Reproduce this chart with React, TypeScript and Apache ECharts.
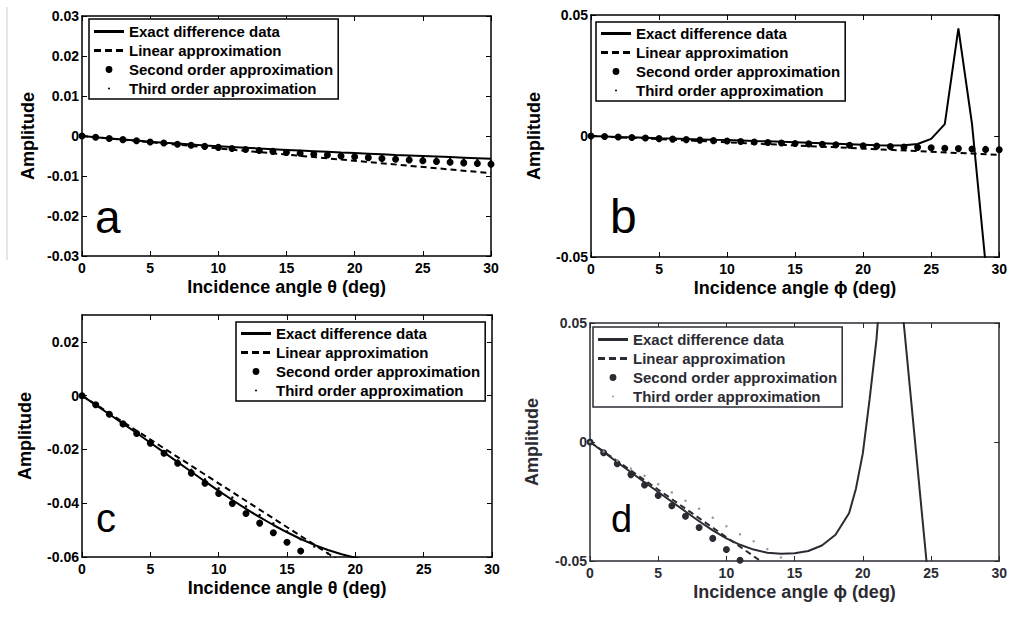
import React, { useEffect, useRef } from "react";
import * as echarts from "echarts";

// ---------- data ----------
const NAMES = [
  "Exact difference data",
  "Linear approximation",
  "Second order approximation",
  "Third order approximation",
];

const ANGLES = [0, 1, 2, 3, 4, 5, 6, 7, 8, 9, 10, 11, 12, 13, 14, 15, 16, 17, 18, 19, 20, 21, 22, 23, 24, 25, 26, 27, 28, 29, 30];
const LINEAR_X = [0, 30];

// panel a (theta)
const A_EXACT = [0, -0.0003, -0.0006, -0.00088, -0.00115, -0.00141, -0.00166, -0.0019, -0.00213, -0.00235, -0.00256, -0.00276, -0.00295, -0.00313, -0.0033, -0.00347, -0.00364, -0.0038, -0.00396, -0.00412, -0.00427, -0.00442, -0.00457, -0.00472, -0.00486, -0.005, -0.00514, -0.00528, -0.00542, -0.00556, -0.0057];
const A_LINEAR = [0, -0.0093];
const A_SECOND = [0, -0.00031, -0.00061, -0.00091, -0.0012, -0.00149, -0.00177, -0.00205, -0.00232, -0.00259, -0.00285, -0.00311, -0.00336, -0.00361, -0.00385, -0.00409, -0.00432, -0.00455, -0.00477, -0.00499, -0.0052, -0.00541, -0.00561, -0.00581, -0.006, -0.00619, -0.00637, -0.00655, -0.00672, -0.00689, -0.00705];
const A_THIRD = [0, -0.00031, -0.00061, -0.0009, -0.00119, -0.00147, -0.00175, -0.00201, -0.00228, -0.00253, -0.00277, -0.00301, -0.00324, -0.00345, -0.00366, -0.00386, -0.00404, -0.00422, -0.00439, -0.00455, -0.0047, -0.00485, -0.005, -0.00515, -0.0053, -0.00545, -0.0056, -0.00575, -0.0059, -0.00605, -0.0062];

// panel b (phi)
const B_EXACT = [0, -0.0002, -0.0004, -0.0005, -0.0007, -0.0009, -0.001, -0.0012, -0.0014, -0.0016, -0.0017, -0.0019, -0.0021, -0.0022, -0.0024, -0.0026, -0.0028, -0.003, -0.0032, -0.0034, -0.0036, -0.0038, -0.0039, -0.0038, -0.0033, -0.0012, 0.0049, 0.0445, 0.005, -0.053, -0.14];
const B_LINEAR = [0, -0.0078];
const B_SECOND = [0, -0.00022, -0.00044, -0.00065, -0.00086, -0.00108, -0.00128, -0.00149, -0.0017, -0.0019, -0.0021, -0.0023, -0.0025, -0.00269, -0.00288, -0.00308, -0.00326, -0.00345, -0.00364, -0.00382, -0.004, -0.00418, -0.00436, -0.00453, -0.0047, -0.00488, -0.00504, -0.00521, -0.00538, -0.00554, -0.0057];
const B_THIRD = [0, -0.00022, -0.00043, -0.00064, -0.00085, -0.00105, -0.00125, -0.00145, -0.00165, -0.00184, -0.00203, -0.00222, -0.0024, -0.00258, -0.00275, -0.00292, -0.00309, -0.00325, -0.0034, -0.00355, -0.0037, -0.00384, -0.00397, -0.0041, -0.00422, -0.00433, -0.00444, -0.00454, -0.00463, -0.00471, -0.00478];

// panel c (theta)
const C_EXACT_X = [0, 1, 2, 3, 4, 5, 6, 7, 8, 9, 10, 11, 12, 13, 14, 15, 16, 17, 18, 19, 20, 21];
const C_EXACT = [0, -0.0034, -0.0069, -0.0104, -0.0139, -0.0175, -0.0211, -0.0247, -0.0283, -0.0319, -0.0354, -0.0388, -0.0421, -0.0452, -0.0481, -0.0508, -0.0533, -0.0555, -0.0574, -0.059, -0.0603, -0.0614];
const C_LINEAR = [0, -0.0978];
const C_SECOND_X = [0, 1, 2, 3, 4, 5, 6, 7, 8, 9, 10, 11, 12, 13, 14, 15, 16];
const C_SECOND = [0, -0.0034, -0.0069, -0.0105, -0.0141, -0.0177, -0.0214, -0.0251, -0.0288, -0.0326, -0.0364, -0.0401, -0.0438, -0.0474, -0.051, -0.0545, -0.0578];
const C_THIRD_X = [0, 1, 2, 3, 4, 5, 6, 7, 8, 9, 10, 11, 12, 13, 14, 15, 16, 17, 18, 19];
const C_THIRD = [0, -0.0034, -0.0068, -0.0102, -0.0136, -0.0171, -0.0206, -0.0241, -0.0276, -0.0311, -0.0345, -0.0379, -0.0412, -0.0444, -0.0475, -0.0505, -0.0534, -0.0561, -0.0587, -0.0611];

// panel d (phi)
const D_EXACT_X = [0, 1, 2, 3, 4, 5, 6, 7, 8, 9, 10, 11, 12, 13, 14, 15, 16, 17, 18, 19, 19.5, 20, 20.5, 21, 21.5, 22, 22.5, 23, 23.5, 24, 24.5, 25];
const D_EXACT = [0, -0.0042, -0.0085, -0.0127, -0.0169, -0.021, -0.0251, -0.0292, -0.0333, -0.0371, -0.0405, -0.0432, -0.0452, -0.0465, -0.047, -0.0467, -0.0458, -0.0435, -0.039, -0.0298, -0.0195, -0.0048, 0.018, 0.043, 0.08, 0.2, 0.12, 0.05, 0.02, -0.01, -0.04, -0.07];
const D_LINEAR = [0, -0.12];
const D_SECOND_X = [0, 1, 2, 3, 4, 5, 6, 7, 8, 9, 10, 11];
const D_SECOND = [0, -0.0045, -0.0091, -0.0137, -0.0181, -0.0225, -0.0268, -0.0312, -0.0359, -0.0405, -0.0452, -0.0497];
const D_THIRD_X = [0, 1, 2, 3, 4, 5, 6, 7, 8, 9, 10, 11, 12, 13, 14, 15];
const D_THIRD = [0, -0.004, -0.0078, -0.0112, -0.0142, -0.0177, -0.0212, -0.0247, -0.028, -0.0318, -0.0354, -0.0388, -0.0417, -0.045, -0.0485, -0.052];

const X_TITLE_THETA = "Incidence angle θ (deg)";
const X_TITLE_PHI = "Incidence angle ϕ (deg)";
const Y_TITLE = "Amplitude";
const PANEL_LETTERS = ["a", "b", "c", "d"];

// ---------- layout / style ----------
const FF = '"Liberation Sans", Arial, Helvetica, sans-serif';

const zip = (xs: number[], ys: number[]) => ys.map((y, i) => [xs[i], y]);

const svgIcon = (inner: string) =>
  "image://data:image/svg+xml;charset=utf-8," +
  encodeURIComponent(
    `<svg xmlns="http://www.w3.org/2000/svg" width="30" height="10" viewBox="0 0 30 10">${inner}</svg>`
  );

const PANELS = [
  {
    grid: { left: 82, top: 16, width: 409, height: 240 },
    y: { min: -0.03, max: 0.03, interval: 0.01, hideMax: false },
    xTitle: X_TITLE_THETA,
    yGap: 45,
    legend: { left: 89, top: 19, padding: [5, 5, 3, 5] },
    letter: { x: 95, y: 217, size: 46 },
    color: "#000",
    thirdColor: "#000",
    exact: zip(ANGLES, A_EXACT),
    linear: zip(LINEAR_X, A_LINEAR),
    second: zip(ANGLES, A_SECOND),
    third: zip(ANGLES, A_THIRD),
  },
  {
    grid: { left: 591, top: 15, width: 410, height: 242 },
    y: { min: -0.05, max: 0.05, interval: 0.05, hideMax: false },
    xTitle: X_TITLE_PHI,
    yGap: 48,
    legend: { left: 596, top: 22, padding: [4, 5, 3, 5] },
    letter: { x: 610, y: 216, size: 48 },
    color: "#000",
    thirdColor: "#000",
    exact: zip(ANGLES, B_EXACT),
    linear: zip(LINEAR_X, B_LINEAR),
    second: zip(ANGLES, B_SECOND),
    third: zip(ANGLES, B_THIRD),
  },
  {
    grid: { left: 82, top: 315, width: 410, height: 242 },
    y: { min: -0.06, max: 0.03, interval: 0.02, hideMax: true },
    xTitle: X_TITLE_THETA,
    yGap: 48,
    legend: { left: 236, top: 322, padding: [4, 5, 3, 5] },
    letter: { x: 96, y: 518, size: 40 },
    color: "#000",
    thirdColor: "#000",
    exact: zip(C_EXACT_X, C_EXACT),
    linear: zip(LINEAR_X, C_LINEAR),
    second: zip(C_SECOND_X, C_SECOND),
    third: zip(C_THIRD_X, C_THIRD),
  },
  {
    grid: { left: 590, top: 323, width: 411, height: 238 },
    y: { min: -0.05, max: 0.05, interval: 0.05, hideMax: false },
    xTitle: X_TITLE_PHI,
    yGap: 49,
    legend: { left: 593, top: 327, padding: [5, 5, 3, 5] },
    letter: { x: 611, y: 519, size: 38 },
    color: "#2b2b33",
    thirdColor: "#9a9a9a",
    exact: zip(D_EXACT_X, D_EXACT),
    linear: zip(LINEAR_X, D_LINEAR),
    second: zip(D_SECOND_X, D_SECOND),
    third: zip(D_THIRD_X, D_THIRD),
  },
];

function buildOption() {
  const grid: any[] = [];
  const xAxis: any[] = [];
  const yAxis: any[] = [];
  const series: any[] = [];
  const legend: any[] = [];
  const graphic: any[] = [];

  PANELS.forEach((p, k) => {
    const c = p.color;
    grid.push({ ...p.grid, containLabel: false });
    const axisLine = { show: true, onZero: false, lineStyle: { color: c, width: 1.5 } };
    const axisTick = { show: true, inside: true, length: 5, lineStyle: { color: c, width: 1 } };
    const label = { color: c, fontSize: 14, fontWeight: "bold", fontFamily: FF };

    xAxis.push({
      gridIndex: k,
      type: "value",
      position: "bottom",
      min: 0,
      max: 30,
      interval: 5,
      axisLine,
      axisTick,
      splitLine: { show: false },
      axisLabel: { ...label, margin: 5 },
      name: p.xTitle,
      nameLocation: "middle",
      nameGap: 22,
      nameTextStyle: { color: c, fontSize: 18, fontWeight: "bold", fontFamily: FF },
    });
    xAxis.push({
      gridIndex: k,
      type: "value",
      position: "top",
      min: 0,
      max: 30,
      interval: 5,
      axisLine,
      axisTick,
      splitLine: { show: false },
      axisLabel: { show: false },
    });
    yAxis.push({
      gridIndex: k,
      type: "value",
      position: "left",
      min: p.y.min,
      max: p.y.max,
      interval: p.y.interval,
      axisLine,
      axisTick,
      splitLine: { show: false },
      axisLabel: { ...label, margin: 3, showMaxLabel: p.y.hideMax ? false : null },
      name: Y_TITLE,
      nameLocation: "middle",
      nameGap: p.yGap,
      nameRotate: 90,
      nameTextStyle: { color: c, fontSize: 18, fontWeight: "bold", fontFamily: FF },
    });
    yAxis.push({
      gridIndex: k,
      type: "value",
      position: "right",
      min: p.y.min,
      max: p.y.max,
      interval: p.y.interval,
      axisLine,
      axisTick,
      splitLine: { show: false },
      axisLabel: { show: false },
    });

    const xi = 2 * k;
    const yi = 2 * k;
    series.push({
      name: NAMES[0],
      type: "line",
      xAxisIndex: xi,
      yAxisIndex: yi,
      data: p.exact,
      symbol: "none",
      clip: true,
      lineStyle: { color: c, width: 2 },
      itemStyle: { color: c },
      z: 4,
    });
    series.push({
      name: NAMES[1],
      type: "line",
      xAxisIndex: xi,
      yAxisIndex: yi,
      data: p.linear,
      symbol: "none",
      clip: true,
      lineStyle: { color: c, width: 2, type: [6, 4] },
      itemStyle: { color: c },
      z: 3,
    });
    series.push({
      name: NAMES[2],
      type: "scatter",
      xAxisIndex: xi,
      yAxisIndex: yi,
      data: p.second,
      symbol: "circle",
      symbolSize: 7,
      clip: true,
      itemStyle: { color: c, opacity: 1 },
      z: 5,
    });
    series.push({
      name: NAMES[3],
      type: "scatter",
      xAxisIndex: xi,
      yAxisIndex: yi,
      data: p.third,
      symbol: "circle",
      symbolSize: 2.5,
      clip: true,
      itemStyle: { color: p.thirdColor, opacity: 1 },
      z: 6,
    });

    legend.push({
      orient: "vertical",
      left: p.legend.left,
      top: p.legend.top,
      padding: p.legend.padding,
      itemGap: 4,
      itemWidth: 30,
      itemHeight: 10,
      backgroundColor: "#fff",
      borderColor: c,
      borderWidth: 1.5,
      borderRadius: 0,
      selectedMode: false,
      textStyle: { color: c, fontSize: 15, fontWeight: "bold", fontFamily: FF, lineHeight: 15 },
      data: [
        { name: NAMES[0], icon: svgIcon(`<line x1="0" y1="5" x2="30" y2="5" stroke="${c}" stroke-width="2.8"/>`) },
        {
          name: NAMES[1],
          icon: svgIcon(`<line x1="0" y1="5" x2="30" y2="5" stroke="${c}" stroke-width="2.8" stroke-dasharray="7,4"/>`),
        },
        { name: NAMES[2], icon: svgIcon(`<circle cx="15" cy="5" r="3.4" fill="${c}"/>`) },
        { name: NAMES[3], icon: svgIcon(`<circle cx="15" cy="5" r="1" fill="${p.thirdColor}"/>`) },
      ],
    });

    graphic.push({
      type: "text",
      x: p.letter.x,
      y: p.letter.y,
      z: 10,
      style: {
        text: PANEL_LETTERS[k],
        fill: "#000",
        font: `${p.letter.size}px ${FF}`,
        verticalAlign: "middle",
        align: "left",
      },
    });
  });

  graphic.push({
    type: "line",
    shape: { x1: 7, y1: 7, x2: 7, y2: 260 },
    style: { stroke: "#cccccc", lineWidth: 1 },
  });

  return {
    animation: false,
    backgroundColor: "#fff",
    grid,
    xAxis,
    yAxis,
    series,
    legend,
    graphic,
  };
}

export default function App() {
  const ref = useRef<HTMLDivElement>(null);
  useEffect(() => {
    if (!ref.current) return;
    const chart = echarts.init(ref.current, undefined, { renderer: "svg" });
    chart.setOption(buildOption() as any);
    return () => chart.dispose();
  }, []);
  return (
    <div
      ref={ref}
      style={{ position: "fixed", left: 0, top: 0, width: 1010, height: 618, background: "#fff" }}
    />
  );
}
